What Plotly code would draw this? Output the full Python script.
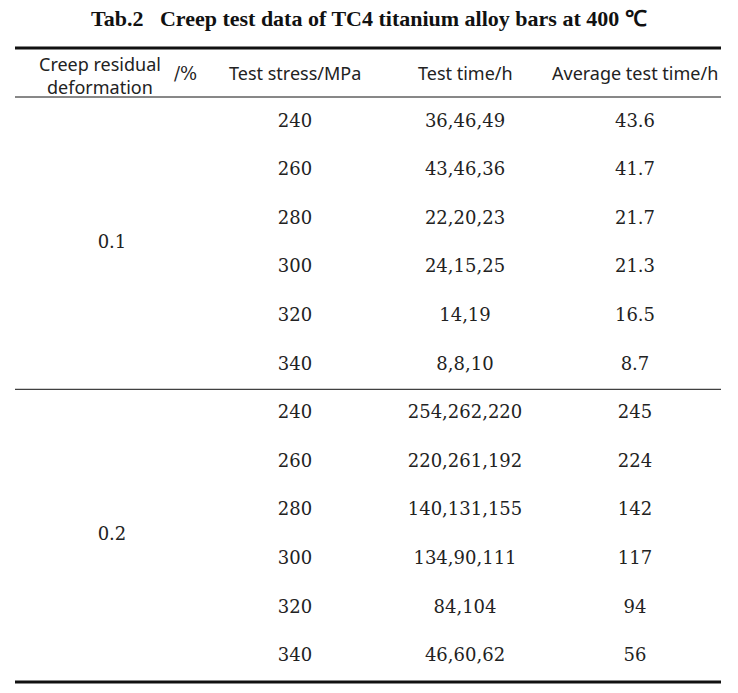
import plotly.graph_objects as go

title = "Tab.2   Creep test data of TC4 titanium alloy bars at 400 ℃"
headers = ["Creep residual<br>deformation", "Test stress/MPa", "Test time/h", "Average test time/h"]
deformation = ["0.1", "0.2"]
stress = ["240", "260", "280", "300", "320", "340"]
times_01 = ["36,46,49", "43,46,36", "22,20,23", "24,15,25", "14,19", "8,8,10"]
times_02 = ["254,262,220", "220,261,192", "140,131,155", "134,90,111", "84,104", "46,60,62"]
avg_01 = ["43.6", "41.7", "21.7", "21.3", "16.5", "8.7"]
avg_02 = ["245", "224", "142", "117", "94", "56"]

col_x = [100, 295, 465, 635]
row0, dy = 122, 48.6
W, H = 738, 693
vfont = dict(family="DejaVu Serif", size=18, color="#222")
hfont = dict(family="Noto Sans", size=18, color="#222")

fig = go.Figure()
rows_y, s_col, t_col, a_col = [], [], [], []
for g, (tl, al) in enumerate([(times_01, avg_01), (times_02, avg_02)]):
    for i in range(6):
        rows_y.append(row0 + (g * 6 + i) * dy)
        s_col.append(stress[i]); t_col.append(tl[i]); a_col.append(al[i])
for x, col in zip(col_x[1:], [s_col, t_col, a_col]):
    fig.add_trace(go.Scatter(x=[x] * len(col), y=rows_y, text=col, mode="text",
                             textfont=vfont, hoverinfo="skip"))
fig.add_trace(go.Scatter(x=[col_x[0] + 12] * 2, y=[row0 + 2.5 * dy, row0 + 8.5 * dy],
                         text=deformation, mode="text", textfont=vfont, hoverinfo="skip"))

fig.add_annotation(x=100, y=75, text=headers[0], showarrow=False, font=hfont, align="center")
fig.add_annotation(x=185, y=73, text="/%", showarrow=False,
                   font=dict(family="DejaVu Serif", size=18, color="#222"))
for x, h in zip(col_x[1:], headers[1:]):
    fig.add_annotation(x=x, y=73, text=h, showarrow=False, font=hfont)
fig.add_annotation(x=W / 2, y=18, text="<b>" + title + "</b>", showarrow=False,
                   font=dict(family="Liberation Serif", size=22, color="#111"))

x0, x1 = 15, 721
fig.add_shape(type="line", x0=x0, x1=x1, y0=48, y1=48, line=dict(color="#111", width=3))
fig.add_shape(type="line", x0=x0, x1=x1, y0=97, y1=97, line=dict(color="#111", width=1))
fig.add_shape(type="line", x0=x0, x1=x1, y0=row0 + 5.5 * dy, y1=row0 + 5.5 * dy, line=dict(color="#111", width=1))
fig.add_shape(type="line", x0=x0, x1=x1, y0=682, y1=682, line=dict(color="#111", width=3))

fig.update_layout(width=W, height=H, margin=dict(l=0, r=0, t=0, b=0), showlegend=False,
                  plot_bgcolor="white", paper_bgcolor="white",
                  xaxis=dict(range=[8, W + 8], visible=False, fixedrange=True),
                  yaxis=dict(range=[H + 8, 8], visible=False, fixedrange=True))
fig.write_html("out.html", config={"displayModeBar": False})
